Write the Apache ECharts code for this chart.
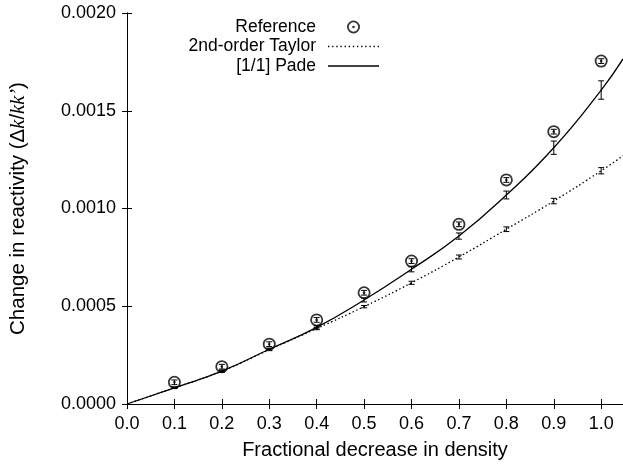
<!DOCTYPE html>
<html>
<head>
<meta charset="utf-8">
<script src="https://cdn.jsdelivr.net/npm/echarts@6/dist/echarts.min.js"></script>
<style>
html,body{margin:0;padding:0;background:#fff;}
#chart{width:623px;height:466px;}
</style>
</head>
<body>
<div id="chart"></div>
<script>
// ---- data ----
const xTicks = ['0.0','0.1','0.2','0.3','0.4','0.5','0.6','0.7','0.8','0.9','1.0'];
const yTicks = ['0.0000','0.0005','0.0010','0.0015','0.0020'];

const pointX = [0.1,0.2,0.3,0.4,0.5,0.6,0.7,0.8,0.9,1.0];
const referenceY   = [0.000111,0.000191,0.000306,0.000430,0.000569,0.000731,0.000919,0.001146,0.001393,0.001754];
const referenceErr = [0.000012,0.000012,0.000012,0.000012,0.000012,0.000012,0.000012,0.000012,0.000012,0.000012];
const taylorY   = [0.000083,0.000168,0.000278,0.000386,0.000498,0.000620,0.000752,0.000894,0.001038,0.001193];
const taylorErr = [0.000004,0.000005,0.000005,0.000006,0.000006,0.000008,0.000010,0.000012,0.000014,0.000016];
const padeY   = [0.000083,0.000168,0.000280,0.000392,0.000532,0.000689,0.000859,0.001069,0.001311,0.001606];
const padeErr = [0.000004,0.000005,0.000006,0.000008,0.000010,0.000013,0.000016,0.000020,0.000034,0.000047];

const curveX      = [0,0.1,0.2,0.3,0.4,0.5,0.6,0.7,0.8,0.9,1.0,1.046];
const taylorCurve = [0,0.000083,0.000168,0.000278,0.000386,0.000498,0.000620,0.000752,0.000894,0.001038,0.001193,0.001270];
const padeCurve   = [0,0.000083,0.000168,0.000280,0.000392,0.000532,0.000689,0.000859,0.001069,0.001311,0.001606,0.001765];

const names = ['Reference','2nd-order Taylor','[1/1] Pade'];

// ---- build ----
const FONT = 'Liberation Sans, Arial, Helvetica, sans-serif';
const pair = (xs, ys) => xs.map((x, i) => [x, ys[i]]);
const triple = (xs, ys, es) => xs.map((x, i) => [x, ys[i], es[i]]);

function errRender(params, api) {
  const x = api.value(0), y = api.value(1), e = api.value(2);
  const t = api.coord([x, y + e]), b = api.coord([x, y - e]);
  const w = 3;
  const st = {stroke: '#000', lineWidth: 1};
  return {type: 'group', children: [
    {type: 'line', shape: {x1: t[0], y1: t[1], x2: b[0], y2: b[1]}, style: st},
    {type: 'line', shape: {x1: t[0] - w, y1: t[1], x2: t[0] + w, y2: t[1]}, style: st},
    {type: 'line', shape: {x1: b[0] - w, y1: b[1], x2: b[0] + w, y2: b[1]}, style: st}
  ]};
}

const ringDot = 'path://M0,-10 A10,10 0 1,1 0,10 A10,10 0 1,1 0,-10 Z ' +
  'M0,-7.3 A7.3,7.3 0 1,0 0,7.3 A7.3,7.3 0 1,0 0,-7.3 Z ' +
  'M0,-2 A2,2 0 1,1 0,2 A2,2 0 1,1 0,-2 Z';

// legend line samples (filled thin bars)
const solidIcon = 'path://M0,0 H51 V1.3 H0 Z';
let dots = '';
for (let i = 0; i < 13; i++) dots += 'M' + (i * 4) + ',0 h1.3 v1.3 h-1.3 Z ';
const dottedIcon = 'path://' + dots;

const xFmt = v => { const r = Math.round(v * 10); return Math.abs(v * 10 - r) < 1e-6 && r >= 0 && r < xTicks.length ? xTicks[r] : ''; };
const yFmt = v => { const r = Math.round(v / 0.0005); return Math.abs(v / 0.0005 - r) < 1e-6 && r >= 0 && r < yTicks.length ? yTicks[r] : ''; };

const axisCommon = {
  axisLine: {show: true, lineStyle: {color: '#000', width: 1}},
  axisTick: {show: true, inside: true, length: 5, lineStyle: {color: '#000', width: 1}},
  splitLine: {show: false}
};

const chart = echarts.init(document.getElementById('chart'), null, {renderer: 'canvas'});
chart.setOption({
  animation: false,
  backgroundColor: '#fff',
  grid: {left: 127, top: 13, width: 499, height: 391, containLabel: false},
  legend: {
    data: [
      {name: names[0], icon: ringDot},
      {name: names[1], icon: dottedIcon},
      {name: names[2], icon: solidIcon}
    ],
    orient: 'vertical',
    align: 'right',
    right: 244,
    top: 18,
    padding: 0,
    itemWidth: 51,
    itemHeight: 13,
    itemGap: 1.5,
    selectedMode: false,
    itemStyle: {color: '#000', borderWidth: 0},
    textStyle: {fontFamily: FONT, fontSize: 17.5, color: '#000', padding: [0, 7, 0, 0]}
  },
  xAxis: [
    Object.assign({
      type: 'value', min: 0, max: 1.046, interval: 0.1, position: 'bottom',
      name: 'Fractional decrease in density', nameLocation: 'middle', nameGap: 36.5,
      nameTextStyle: {fontFamily: FONT, fontSize: 20, color: '#000'},
      axisLabel: {formatter: xFmt, fontFamily: FONT, fontSize: 18, color: '#000', margin: 11, showMaxLabel: false}
    }, axisCommon),
    Object.assign({
      type: 'value', min: 0, max: 1.046, interval: 0.1, position: 'top',
      axisLabel: {show: false}
    }, axisCommon)
  ],
  yAxis: [
    Object.assign({
      type: 'value', min: 0, max: 0.002, interval: 0.0005, position: 'left',
      name: "Change in reactivity ({d|Δ}{i|k}{d|/}{i|kk’}{d|)}",
      nameLocation: 'middle', nameGap: 98, nameRotate: 90,
      nameTextStyle: {
        fontFamily: FONT, fontSize: 20.5, color: '#000', fontWeight: 'normal',
        rich: {
          i: {fontFamily: 'Liberation Serif, Times New Roman, serif', fontStyle: 'italic', fontWeight: 'normal', fontSize: 20.5, color: '#000'},
          d: {fontFamily: FONT, fontSize: 20.5, fontWeight: 'normal', color: '#000'}
        }
      },
      axisLabel: {formatter: yFmt, fontFamily: FONT, fontSize: 18, color: '#000', margin: 11}
    }, axisCommon),
    Object.assign({
      type: 'value', min: 0, max: 0.002, interval: 0.0005, position: 'right',
      axisLabel: {show: false}
    }, axisCommon)
  ],
  series: [
    {
      name: names[1], type: 'line', xAxisIndex: 0, yAxisIndex: 0,
      data: pair(curveX, taylorCurve), smooth: true, symbol: 'none',
      lineStyle: {color: '#000', width: 1.3, type: [1.5, 2.5]},
      itemStyle: {color: '#000'}, z: 2
    },
    {
      name: names[2], type: 'line', xAxisIndex: 0, yAxisIndex: 0,
      data: pair(curveX, padeCurve), smooth: true, symbol: 'none',
      lineStyle: {color: '#000', width: 1.3, type: 'solid'},
      itemStyle: {color: '#000'}, z: 2
    },
    {
      name: 'taylorErr', type: 'custom', renderItem: errRender,
      data: triple(pointX, taylorY, taylorErr), z: 3, clip: true
    },
    {
      name: 'padeErr', type: 'custom', renderItem: errRender,
      data: triple(pointX, padeY, padeErr), z: 3, clip: true
    },
    {
      name: names[0], type: 'scatter', xAxisIndex: 0, yAxisIndex: 0,
      data: pair(pointX, referenceY), symbol: ringDot, symbolSize: 13,
      itemStyle: {color: '#000'}, z: 4
    },
    {
      name: 'referenceErr', type: 'custom', renderItem: errRender,
      data: triple(pointX, referenceY, referenceErr), z: 5, clip: true
    }
  ]
});
</script>
</body>
</html>
